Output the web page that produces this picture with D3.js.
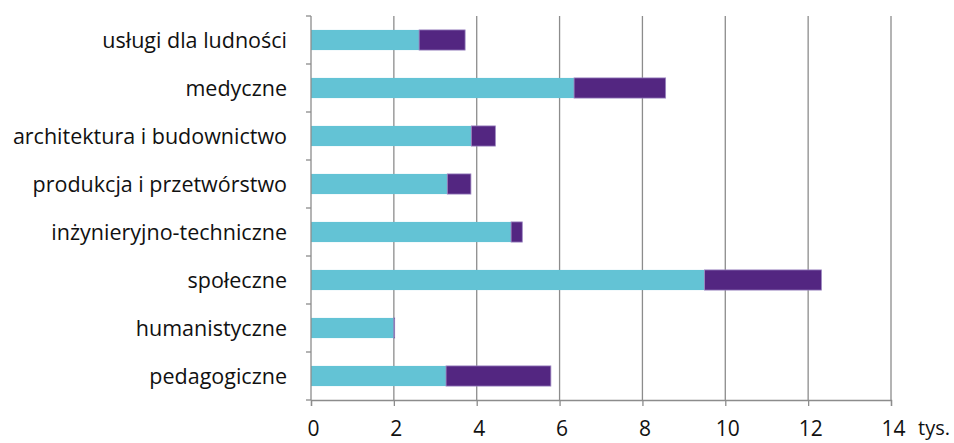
<!DOCTYPE html>
<html>
<head>
<meta charset="utf-8">
<script src="https://cdn.jsdelivr.net/npm/d3@7"></script>
<style>
	body { margin: 0; background: #fff; }
	text { font-family: "Open Sans", "Noto Sans", sans-serif; fill: #111; }
</style>
</head>
<body>
<svg id="vis" width="954" height="443"></svg>
<script>
// categories, top to bottom
const categories = [
	"usługi dla ludności",
	"medyczne",
	"architektura i budownictwo",
	"produkcja i przetwórstwo",
	"inżynieryjno-techniczne",
	"społeczne",
	"humanistyczne",
	"pedagogiczne"
];

// two stacked series (tys.)
const seriesA = [2.61, 6.35, 3.87, 3.29, 4.83, 9.50, 2.00, 3.26];
const seriesB = [1.11, 2.21, 0.58, 0.57, 0.27, 2.82, 0.02, 2.53];

const xTicks = [0, 2, 4, 6, 8, 10, 12, 14];
const colors = ["#63c3d5", "#532681"];

const svg = d3.select("svg#vis");

const margin = { top: 16, left: 311, right: 63, bottom: 43 };
const width = 954 - margin.left - margin.right;
const height = 443 - margin.top - margin.bottom;

const x = d3.scaleLinear().domain([0, 14]).range([0, width]);
const y = d3.scaleBand().domain(categories).range([0, height]).paddingInner(0.58).paddingOuter(0.29);

const g = svg.append("g").attr("transform", translate(margin.left, margin.top));

// vertical grid
g.append("g").selectAll("line")
	.data(xTicks.slice(1))
	.enter().append("line")
	.attr("x1", d => x(d)).attr("x2", d => x(d))
	.attr("y1", 0).attr("y2", height)
	.attr("stroke", "#8c8c8c").attr("stroke-width", 1.3);

// stacked bars
const rows = categories.map((c, i) => ({ cat: c, a: seriesA[i], b: seriesB[i] }));
const stack = d3.stack().keys(["a", "b"])(rows);

g.append("g").selectAll("g")
	.data(stack)
	.enter().append("g")
	.attr("fill", (d, i) => colors[i])
	.attr("stroke", (d, i) => i == 1 ? "#9b86c0" : "none")
	.attr("stroke-width", 0.8)
	.selectAll("rect")
	.data(d => d)
	.enter().append("rect")
	.attr("x", d => x(d[0]))
	.attr("width", d => x(d[1]) - x(d[0]))
	.attr("y", d => y(d.data.cat))
	.attr("height", y.bandwidth());

// bottom axis
const xAxis = d3.axisBottom(x).tickValues(xTicks).tickSize(6).tickPadding(15).tickFormat(d3.format("d"));
const gx = g.append("g").attr("transform", translate(0, height)).call(xAxis);
gx.select(".domain").attr("stroke", "#8c8c8c").attr("stroke-width", 1.3);
gx.selectAll(".tick line").attr("stroke", "#8c8c8c").attr("stroke-width", 1.3);
gx.selectAll("text").style("font-size", "21px").attr("dx", 2).attr("dy", "0.71em");

// unit label
g.append("text")
	.attr("x", width + 27)
	.attr("y", height + 21)
	.attr("dy", "0.71em")
	.style("font-size", "20px")
	.text("tys.");

// left axis: line, ticks between bands
g.append("line")
	.attr("x1", 0).attr("x2", 0).attr("y1", 0).attr("y2", height)
	.attr("stroke", "#8c8c8c").attr("stroke-width", 1.3);

const step = y.step();
g.append("g").selectAll("line")
	.data(d3.range(categories.length + 1))
	.enter().append("line")
	.attr("x1", -5).attr("x2", 0)
	.attr("y1", i => i * step).attr("y2", i => i * step)
	.attr("stroke", "#8c8c8c").attr("stroke-width", 1.3);

g.append("g").selectAll("text")
	.data(categories)
	.enter().append("text")
	.attr("x", -24)
	.attr("y", d => y(d) + y.bandwidth() / 2)
	.attr("dy", "0.35em")
	.attr("text-anchor", "end")
	.style("font-size", "21.5px")
	.text(d => d);

function translate(x, y) {
	return 'translate(' + x + ',' + y + ')';
}
</script>
</body>
</html>
